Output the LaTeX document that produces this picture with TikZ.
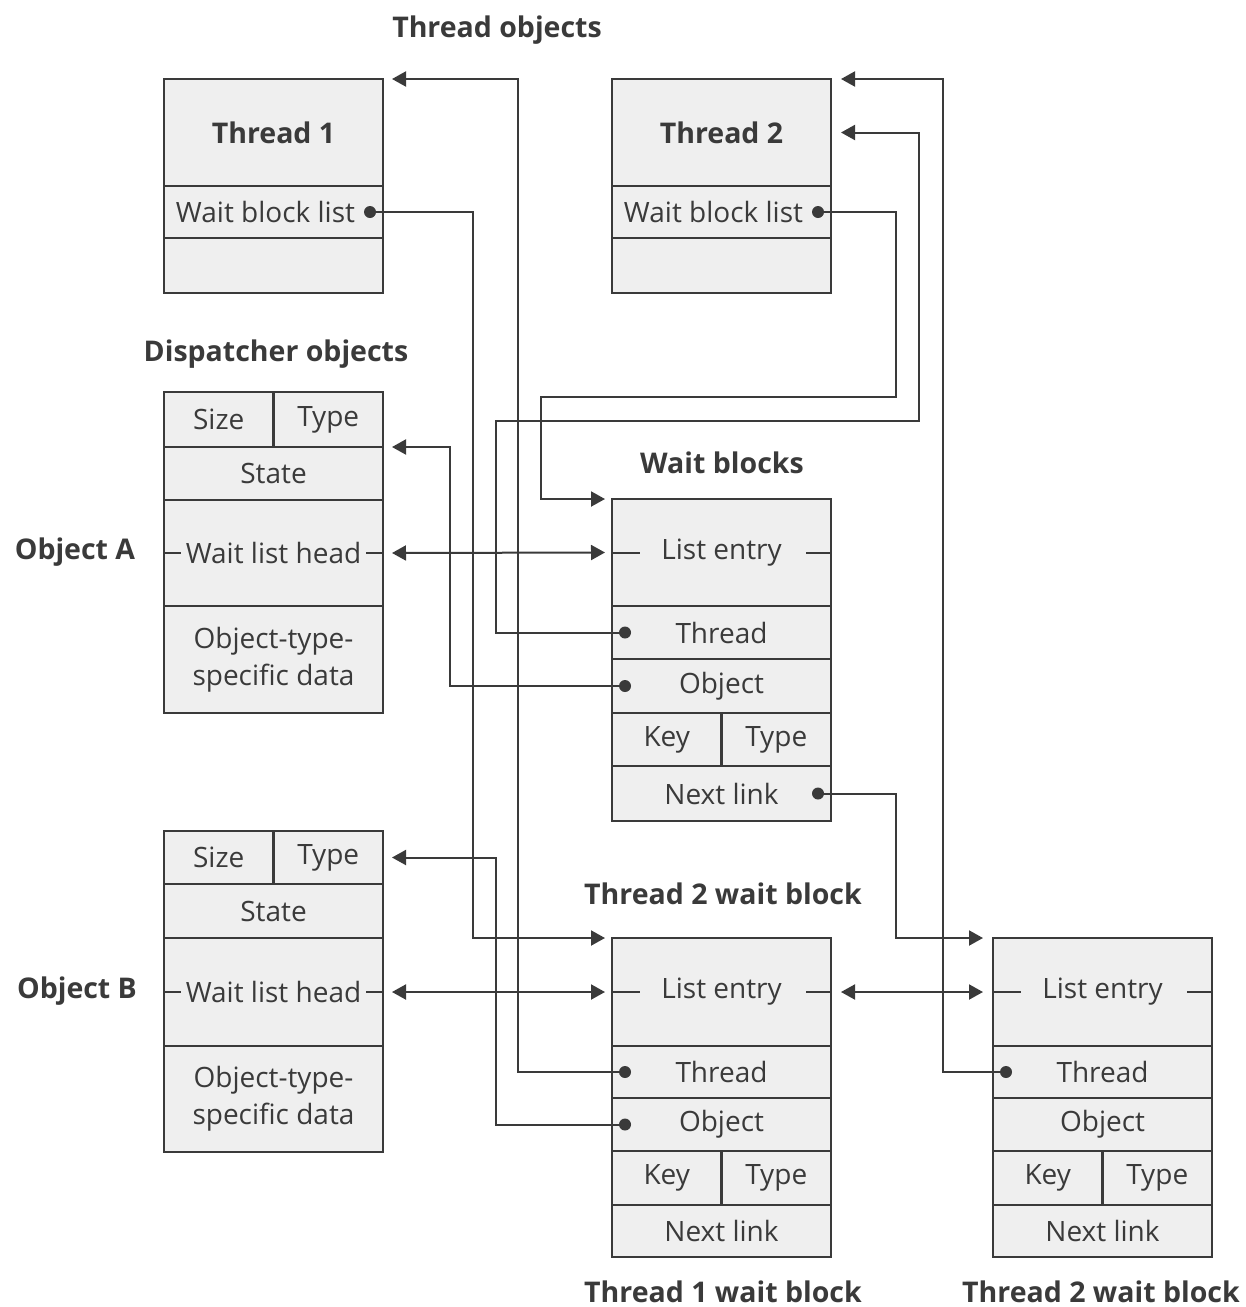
\documentclass[tikz,border=0pt]{standalone}
\usepackage{fontspec}
\setmainfont{Open Sans}
\usetikzlibrary{arrows.meta}
\definecolor{linegray}{HTML}{3A3A3A}
\definecolor{boxgray}{HTML}{EFEFEF}
\begin{document}
\begin{tikzpicture}[
    x=1pt, y=-1pt,
    field/.style={rectangle, draw=linegray, fill=boxgray, line width=2.2pt, anchor=north west, inner sep=0pt, outer sep=0pt, minimum width=219pt, text=linegray, align=center, font=\fontsize{28}{37}\selectfont},
    half/.style={field, minimum width=109.5pt},
    title/.style={font=\bfseries\fontsize{28.5}{32}\selectfont, text=linegray},
    dot/.style={circle, fill=linegray, inner sep=0pt, minimum size=12pt},
    ptr/.style={-{Triangle[length=14pt,width=15pt]}, line width=2pt, draw=linegray},
    dbl/.style={{Triangle[length=14pt,width=15pt]}-{Triangle[length=14pt,width=15pt]}, line width=2pt, draw=linegray},
    tick/.style={line width=2pt, draw=linegray},
]
    \useasboundingbox (0,0) rectangle (1246,1307);

    % Thread objects
    \node[title] (thrtitle) at (497,30) {Thread objects};
    \node[field, minimum height=107pt, font=\bfseries\fontsize{28.5}{32}\selectfont] (t1name) at (164,79) {Thread 1};
    \node[field, minimum height=52pt] (t1list) at (164,186) {Wait block list\hspace{16pt}};
    \node[field, minimum height=55pt] (t1rest) at (164,238) {};
    \node[field, minimum height=107pt, font=\bfseries\fontsize{28.5}{32}\selectfont] (t2name) at (612,79) {Thread 2};
    \node[field, minimum height=52pt] (t2list) at (612,186) {Wait block list\hspace{16pt}};
    \node[field, minimum height=55pt] (t2rest) at (612,238) {};
    \node[dot] (t1dot) at ([xshift=-13pt]t1list.east) {};
    \node[dot] (t2dot) at ([xshift=-13pt]t2list.east) {};

    % Dispatcher objects
    \node[title] (disptitle) at (276,354) {Dispatcher objects};
    \node[half, minimum height=55pt] (asize) at (164,392) {Size};
    \node[half, minimum height=55pt] (atype) at (273.5,392) {Type};
    \node[field, minimum height=53pt] (astate) at (164,447) {State};
    \node[field, minimum height=106pt] (awlh) at (164,500) {Wait list head};
    \node[field, minimum height=107pt] (adata) at (164,606) {Object-type-\\specific data};
    \node[title] (alabel) at (75,552) {Object A};

    \node[half, minimum height=53pt] (bsize) at (164,831) {Size};
    \node[half, minimum height=53pt] (btype) at (273.5,831) {Type};
    \node[field, minimum height=54pt] (bstate) at (164,884) {State};
    \node[field, minimum height=108pt] (bwlh) at (164,938) {Wait list head};
    \node[field, minimum height=106pt] (bdata) at (164,1046) {Object-type-\\specific data};
    \node[title] (blabel) at (77,991) {Object B};

    % Wait blocks
    \node[title] (wtitle) at (722,463) {Wait blocks};
    \node[field, minimum height=107pt] (wle) at (612,499) {List entry};
    \node[field, minimum height=53pt] (wthr) at (612,606) {Thread};
    \node[field, minimum height=54pt] (wobj) at (612,659) {Object};
    \node[half, minimum height=53pt] (wkey) at (612,713) {Key};
    \node[half, minimum height=53pt] (wtyp) at (721.5,713) {Type};
    \node[field, minimum height=55pt] (wnext) at (612,766) {Next link};
    \node[dot] (wthrdot) at ([xshift=13pt]wthr.west) {};
    \node[dot] (wobjdot) at ([xshift=13pt]wobj.west) {};
    \node[dot] (wnextdot) at ([xshift=-13pt]wnext.east) {};

    % Thread 1 wait block
    \node[title] (mtitle) at (723,894) {Thread 2 wait block};
    \node[field, minimum height=108pt] (mle) at (612,938) {List entry};
    \node[field, minimum height=52pt] (mthr) at (612,1046) {Thread};
    \node[field, minimum height=53pt] (mobj) at (612,1098) {Object};
    \node[half, minimum height=54pt] (mkey) at (612,1151) {Key};
    \node[half, minimum height=54pt] (mtyp) at (721.5,1151) {Type};
    \node[field, minimum height=52pt] (mnext) at (612,1205) {Next link};
    \node[dot] (mthrdot) at ([xshift=13pt]mthr.west) {};
    \node[dot] (mobjdot) at ([xshift=13pt]mobj.west) {};
    \node[title] (mbottom) at (723,1292) {Thread 1 wait block};

    % Thread 2 wait block
    \node[field, minimum height=108pt] (rle) at (993,938) {List entry};
    \node[field, minimum height=52pt] (rthr) at (993,1046) {Thread};
    \node[field, minimum height=53pt] (robj) at (993,1098) {Object};
    \node[half, minimum height=54pt] (rkey) at (993,1151) {Key};
    \node[half, minimum height=54pt] (rtyp) at (1102.5,1151) {Type};
    \node[field, minimum height=52pt] (rnext) at (993,1205) {Next link};
    \node[dot] (rthrdot) at ([xshift=13pt]rthr.west) {};
    \node[title] (rbottom) at (1101,1292) {Thread 2 wait block};

    % List entry ticks
    \draw[tick] (awlh.west) -- ++(17,0);
    \draw[tick] (awlh.east) -- ++(-17,0);
    \draw[tick] (bwlh.west) -- ++(17,0);
    \draw[tick] (bwlh.east) -- ++(-17,0);
    \draw[tick] (wle.west) -- ++(28,0);
    \draw[tick] (wle.east) -- ++(-25,0);
    \draw[tick] (mle.west) -- ++(28,0);
    \draw[tick] (mle.east) -- ++(-25,0);
    \draw[tick] (rle.west) -- ++(28,0);
    \draw[tick] (rle.east) -- ++(-25,0);

    % Pointers from threads
    \draw[ptr] (t1dot.center) -- ++(103,0) |- ([xshift=-7pt]mle.north west);
    \draw[ptr] (t2dot.center) -- ++(78,0) -- ++(0,185) -- ++(-355,0) |- ([xshift=-7pt]wle.north west);

    % Pointers from wait blocks
    \draw[ptr] (wthrdot.center) -- ++(-129,0) -- ++(0,-212) -- ++(423,0) |- ([xshift=10pt]t2name.east);
    \draw[ptr] (wobjdot.center) -- ++(-175,0) |- ([xshift=9pt]atype.south east);
    \draw[ptr] (mthrdot.center) -- ++(-107,0) |- ([xshift=9pt]t1name.north east);
    \draw[ptr] (mobjdot.center) -- ++(-129,0) |- ([xshift=9pt]btype.east);
    \draw[ptr] (rthrdot.center) -- ++(-63,0) |- ([xshift=10pt]t2name.north east);
    \draw[ptr] (wnextdot.center) -- ++(78,0) |- ([xshift=-10pt]rle.north west);

    % Wait list links
    \draw[dbl] ([xshift=9pt]awlh.east) -- ([xshift=-7pt]wle.west);
    \draw[dbl] ([xshift=9pt]bwlh.east) -- ([xshift=-7pt]mle.west);
    \draw[dbl] ([xshift=10pt]mle.east) -- ([xshift=-10pt]rle.west);
\end{tikzpicture}
\end{document}
